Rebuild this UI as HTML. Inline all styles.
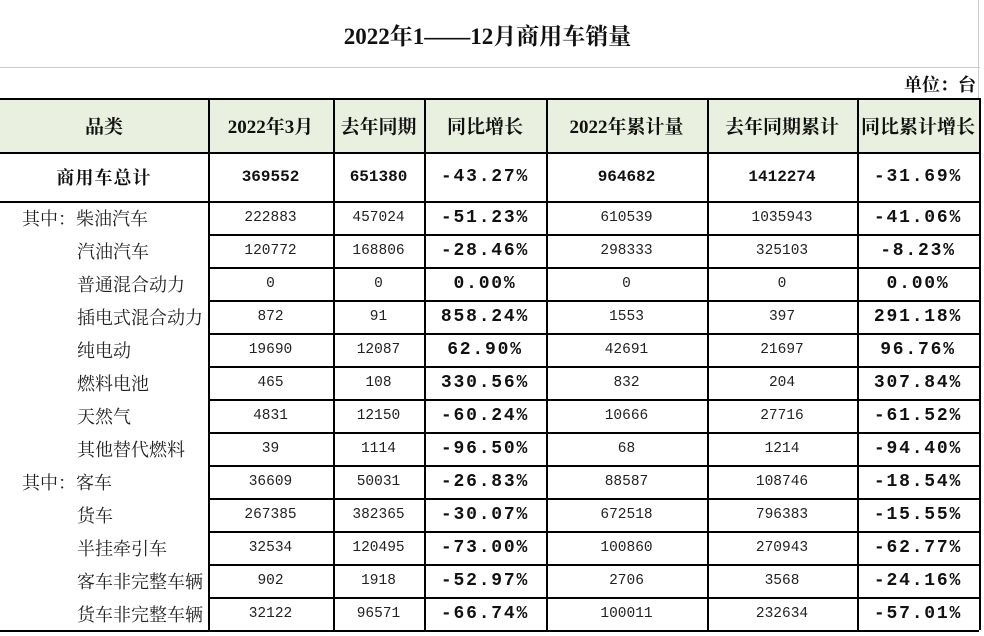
<!DOCTYPE html>
<html><head><meta charset="utf-8"><style>
body{margin:0;width:984px;height:636px;background:#fff;position:relative;overflow:hidden;font-family:"Liberation Serif","Noto Serif CJK SC",serif;color:#111}
.c{position:absolute;display:flex;align-items:center;justify-content:center;box-sizing:border-box;white-space:nowrap}
.h{position:absolute;background:#000;height:1.5px}
.v{position:absolute;background:#000;width:1.5px}
</style></head><body>
<div class="c" style="left:0;width:975px;top:12px;height:44px;font-size:23px;font-weight:bold;">2022年1——12月商用车销量</div>
<div style="position:absolute;left:0;top:67px;width:980px;height:1px;background:#ccc"></div>
<div style="position:absolute;left:978px;top:0;width:1px;height:100px;background:#ccc"></div>
<div class="c" style="left:860px;top:70px;width:116px;height:28px;justify-content:flex-end;font-size:18px;font-weight:bold">单位：台</div>
<div id="t"></div>
<script>
const headers=["品类","2022年3月","去年同期","同比增长","2022年累计量","去年同期累计","同比累计增长"];
const categories=["其中：柴油汽车","汽油汽车","普通混合动力","插电式混合动力","纯电动","燃料电池","天然气","其他替代燃料","其中：客车","货车","半挂牵引车","客车非完整车辆","货车非完整车辆"];
const monthVals=[222883,120772,0,872,19690,465,4831,39,36609,267385,32534,902,32122];
const lastYearVals=[457024,168806,0,91,12087,108,12150,1114,50031,382365,120495,1918,96571];
const yoy=["-51.23%","-28.46%","0.00%","858.24%","62.90%","330.56%","-60.24%","-96.50%","-26.83%","-30.07%","-73.00%","-52.97%","-66.74%"];
const cumVals=[610539,298333,0,1553,42691,832,10666,68,88587,672518,100860,2706,100011];
const cumLastVals=[1035943,325103,0,397,21697,204,27716,1214,108746,796383,270943,3568,232634];
const cumYoy=["-41.06%","-8.23%","0.00%","291.18%","96.76%","307.84%","-61.52%","-94.40%","-18.54%","-15.55%","-62.77%","-24.16%","-57.01%"];
const total=["商用车总计","369552","651380","-43.27%","964682","1412274","-31.69%"];
const xs=[0,208,333,424,546,707,857,979];
const t=document.getElementById('t');
const MONO='font-family:"Liberation Mono",monospace;';
const PCT=MONO+'font-size:18px;font-weight:bold;letter-spacing:1.8px;';
function cell(x,y,w,h,txt,st,name){const d=document.createElement('div');d.className='c';


d.style.cssText=`left:${x}px;top:${y}px;width:${w}px;height:${h}px;`+st;d.textContent=txt;t.appendChild(d);return d;}
function line(cls,x,y,len){const d=document.createElement('div');d.className=cls;


if(cls=='h'){d.style.cssText=`left:${x}px;top:${y}px;width:${len}px`}else{d.style.cssText=`left:${x}px;top:${y}px;height:${len}px`}t.appendChild(d);}
const hb=document.createElement('div');hb.style.cssText='position:absolute;left:0;top:98px;width:979px;height:54px;background:#eaf0df';t.appendChild(hb);
headers.forEach((h,i)=>cell(xs[i],98,xs[i+1]-xs[i],54,h,'font-size:19px;font-weight:bold;','header-'+i));
total.forEach((v,i)=>{let st;
 if(i==0)st='font-size:18px;font-weight:bold;letter-spacing:1px;';
 else if(i==3||i==6)st=PCT;
 else st=MONO+'font-size:16px;font-weight:bold;';
 cell(xs[i],152,xs[i+1]-xs[i],49,v,st,'total-'+i);});
const rowH=33,y0=201;
categories.forEach((c,r)=>{const y=y0+r*rowH;
 const sub=c.startsWith('其中');
 cell(sub?22:77,y,190,rowH,c,'justify-content:flex-start;font-size:18px;color:#222;','category-label');
 const vals=[monthVals[r],lastYearVals[r],yoy[r],cumVals[r],cumLastVals[r],cumYoy[r]];
 vals.forEach((v,i)=>{const pct=(i==2||i==5);
  cell(xs[i+1],y,xs[i+2]-xs[i+1],rowH,String(v),pct?PCT:MONO+'font-size:14.5px;color:#222;','value-cell');});
});
[98,152,201].forEach(y=>line('h',0,y,979));
for(let r=1;r<=categories.length;r++){line('h',208,y0+r*rowH,771);}
line('h',0,y0+categories.length*rowH,979);
for(let i=1;i<xs.length;i++){line('v',xs[i],98,y0+categories.length*rowH-98);}
</script>
</body></html>
